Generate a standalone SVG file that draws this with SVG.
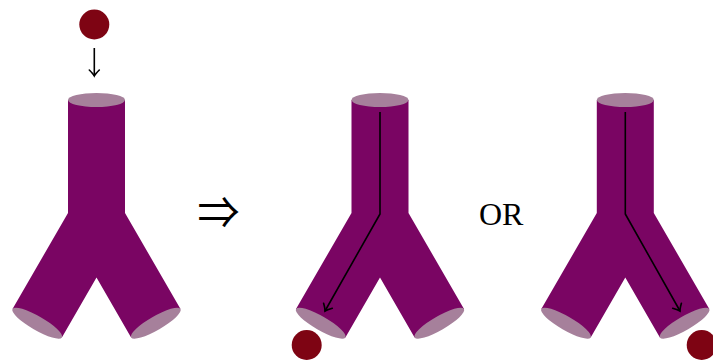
<svg xmlns="http://www.w3.org/2000/svg" width="713" height="360" viewBox="0 0 713 360" xmlns:xlink="http://www.w3.org/1999/xlink">
  <style>
    .tube { fill: #7a0563; }
    .cap { fill: #a6809b; }
    .ball { fill: #7e0413; }
    .flow { fill: none; stroke: #000; stroke-width: 1.6; stroke-linejoin: round; marker-end: url(#tip); }
    .label { font-family: "Liberation Serif", "DejaVu Serif", serif; fill: #000; }
  </style>
  <defs>
    <!-- curved open arrowhead -->
    <marker id="tip" markerUnits="userSpaceOnUse" markerWidth="14" markerHeight="14" viewBox="-8 -7 10 14" refX="0" refY="0" orient="auto" overflow="visible">
      <path d="M -6,-5 Q -2,-1 0,0 Q -2,1 -6,5" fill="none" stroke="#000" stroke-width="1.6" stroke-linecap="round"/>
    </marker>
    <!-- Y-shaped tube, centred on x = 0 -->
    <g id="ytube">
      <path class="tube" d="M -28.5,100 L -28.5,213 L -84,309 L -34.6,337.5 L 0,277.6 L 34.6,337.5 L 84,309 L 28.5,213 L 28.5,100 Z"/>
      <ellipse class="cap" cx="0" cy="100" rx="28.5" ry="7"/>
      <ellipse class="cap" cx="-59.3" cy="323.2" rx="28.5" ry="7" transform="rotate(30 -59.3 323.2)"/>
      <ellipse class="cap" cx="59.3" cy="323.2" rx="28.5" ry="7" transform="rotate(-30 59.3 323.2)"/>
    </g>
  </defs>

  <g id="tube-start">
    <use xlink:href="#ytube" href="#ytube" transform="translate(96.5 0)"/>
  </g>
  <g id="ball-start">
    <circle class="ball" cx="94.3" cy="24.5" r="15"/>
  </g>

  <g id="implies">
    <text x="197.5" y="229" font-family="Noto Sans CJK JP, sans-serif" font-size="44" textLength="42" lengthAdjust="spacingAndGlyphs">⇒</text>
  </g>

  <g id="tube-left">
    <use xlink:href="#ytube" href="#ytube" transform="translate(380 0)"/>
  </g>
  <g id="ball-left">
    <circle class="ball" cx="306.7" cy="345" r="15"/>
  </g>

  <g id="or-label">
    <text class="label" x="501.2" y="225" font-size="32" text-anchor="middle">OR</text>
  </g>

  <g id="tube-right">
    <use xlink:href="#ytube" href="#ytube" transform="translate(625.3 0)"/>
  </g>
  <g id="ball-right">
    <circle class="ball" cx="701.7" cy="345" r="15"/>
  </g>

  <g id="connectors">
    <path class="flow" d="M 94.3,48 L 94.3,76"/>
    <path class="flow" d="M 380,112 L 380,214 L 325,311"/>
    <path class="flow" d="M 625.3,112 L 625.3,214 L 680,311"/>
  </g>
</svg>
